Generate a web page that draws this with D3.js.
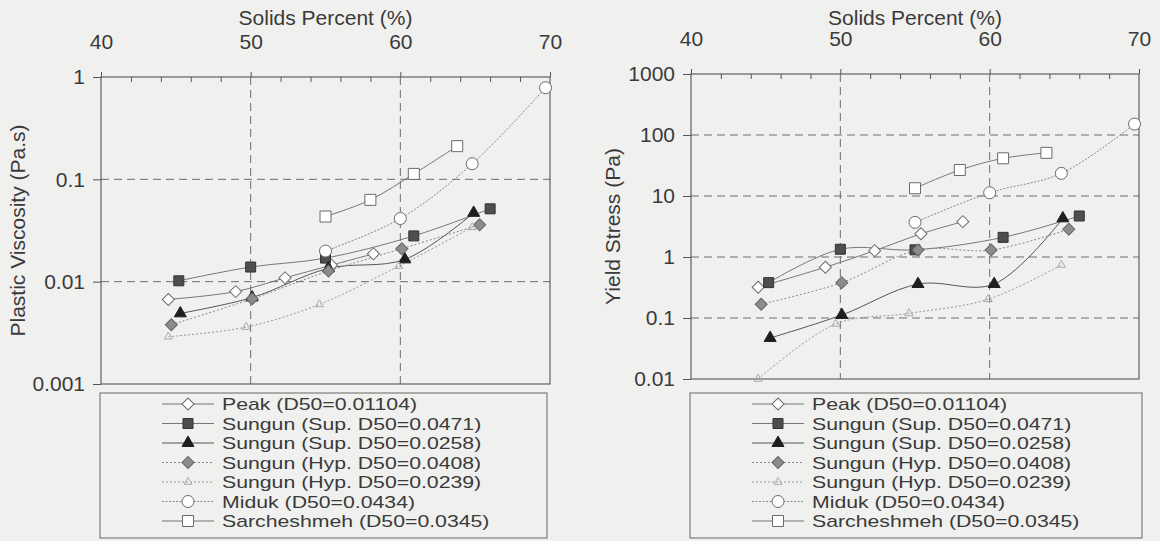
<!DOCTYPE html>
<html>
<head>
<meta charset="utf-8">
<script src="https://cdn.jsdelivr.net/npm/d3@7"></script>
<style>
  html, body { margin: 0; padding: 0; background: #f0f0ef; }
  svg { display: block; }
  text { font-family: "Liberation Sans", Arial, sans-serif; fill: #3a3a3a; }
</style>
</head>
<body>
<div id="chart"></div>
<script>
// series shared by both panels
const seriesNames = [
    "Peak (D50=0.01104)",
    "Sungun (Sup. D50=0.0471)",
    "Sungun (Sup. D50=0.0258)",
    "Sungun (Hyp. D50=0.0408)",
    "Sungun (Hyp. D50=0.0239)",
    "Miduk (D50=0.0434)",
    "Sarcheshmeh (D50=0.0345)"
];

// solids percent of each measured point (same samples in both panels)
const solids = [
    [44.5, 49.0, 52.3, 55.4, 58.2],
    [45.2, 50.0, 55.0, 60.9, 66.0],
    [45.3, 50.1, 55.2, 60.3, 64.9],
    [44.7, 50.1, 55.2, 60.1, 65.3],
    [44.5, 49.7, 54.6, 59.9, 64.8],
    [55.0, 60.0, 64.8, 69.7],
    [55.0, 58.0, 60.9, 63.8]
];

// plastic viscosity (Pa.s)
const viscosity = [
    [0.0067, 0.0080, 0.0109, 0.0145, 0.0187],
    [0.0102, 0.0139, 0.0170, 0.0280, 0.0515],
    [0.0049, 0.0070, 0.0135, 0.0165, 0.0470],
    [0.0038, 0.0068, 0.0127, 0.0210, 0.0360],
    [0.0029, 0.0036, 0.0060, 0.0142, 0.0340],
    [0.0199, 0.0414, 0.142, 0.785],
    [0.0433, 0.063, 0.113, 0.211]
];

// yield stress (Pa)
const yieldStress = [
    [0.32, 0.68, 1.27, 2.4, 3.8],
    [0.38, 1.34, 1.31, 2.1, 4.7],
    [0.047, 0.112, 0.36, 0.36, 4.3],
    [0.168, 0.38, 1.30, 1.30, 2.85],
    [0.010, 0.080, 0.119, 0.203, 0.74],
    [3.7, 11.3, 23.5, 151],
    [13.4, 26.7, 41.5, 51]
];

const xTicks = [40, 50, 60, 70];
const xMinorTicks = [42, 44, 46, 48, 52, 54, 56, 58, 62, 64, 66, 68];
const viscosityTicks = [0.001, 0.01, 0.1, 1];
const viscosityTickLabels = ["0.001", "0.01", "0.1", "1"];
const stressTicks = [0.01, 0.1, 1, 10, 100, 1000];
const stressTickLabels = ["0.01", "0.1", "1", "10", "100", "1000"];

// look of each series: marker, fill, stroke, line dash
const styles = [
    { shape: "diamond", fill: "#ffffff", stroke: "#6a6a6a", line: "#777", dash: null, size: 12 },
    { shape: "square", fill: "#4e4e4e", stroke: "#333", line: "#777", dash: null, size: 10 },
    { shape: "triangle", fill: "#1e1e1e", stroke: "#1e1e1e", line: "#555", dash: null, size: 12 },
    { shape: "diamond", fill: "#8c8c8c", stroke: "#666", line: "#888", dash: "2,2", size: 12 },
    { shape: "triangle", fill: "none", stroke: "#aaa", line: "#999", dash: "2,2", size: 8 },
    { shape: "circle", fill: "#ffffff", stroke: "#6a6a6a", line: "#888", dash: "2,1.5", size: 12 },
    { shape: "square", fill: "#ffffff", stroke: "#6a6a6a", line: "#777", dash: null, size: 11 }
];

const svg = d3.select("#chart").append("svg")
    .attr("width", 1160)
    .attr("height", 541);

function markerPath(shape, size) {
    // size is the approximate width in px
    if (shape === "circle") return d3.symbol(d3.symbolCircle, Math.PI * (size / 2) * (size / 2))();
    if (shape === "square") return d3.symbol(d3.symbolSquare, size * size)();
    if (shape === "diamond") return d3.symbol(d3.symbolSquare, size * size / 2)();
    // triangle: area from side length
    return d3.symbol(d3.symbolTriangle, size * size * Math.sqrt(3) / 4)();
}

function drawMarker(g, s, x, y) {
    g.append("path")
        .attr("d", markerPath(s.shape, s.size))
        .attr("transform", `translate(${x},${y})` + (s.shape === "diamond" ? " rotate(45)" : ""))
        .attr("fill", s.fill)
        .attr("stroke", s.stroke)
        .attr("stroke-width", 1);
}

function drawPanel(p) {
    const g = svg.append("g");

    const x = d3.scaleLinear().domain([40, 70]).range([p.left, p.right]);
    const y = d3.scaleLog().domain(p.yDomain).range([p.bottom, p.top]);

    // dashed grid
    g.selectAll(".vgrid")
        .data([50, 60])
        .enter().append("line")
        .attr("x1", d => x(d)).attr("x2", d => x(d))
        .attr("y1", p.top).attr("y2", p.bottom)
        .attr("stroke", "#6d6d6d").attr("stroke-dasharray", "8,5");

    g.selectAll(".hgrid")
        .data(p.yTicks.slice(1, -1))
        .enter().append("line")
        .attr("x1", p.left).attr("x2", p.right)
        .attr("y1", d => y(d)).attr("y2", d => y(d))
        .attr("stroke", "#6d6d6d").attr("stroke-dasharray", "8,5");

    // top axis, major ticks outward and minor ticks inward
    const topAxis = g.append("g")
        .attr("transform", `translate(0,${p.top})`)
        .call(d3.axisTop(x).tickValues(xTicks).tickSize(5).tickFormat(d3.format("d")));
    topAxis.select(".domain").remove();
    topAxis.selectAll("line").attr("stroke", "#555");
    topAxis.selectAll("text")
        .attr("y", -28).attr("dy", 0)
        .attr("font-size", 21)
        .attr("fill", "#3a3a3a")
        .attr("font-family", "Liberation Sans, Arial, sans-serif");

    const minorAxis = g.append("g")
        .attr("transform", `translate(0,${p.top})`)
        .call(d3.axisTop(x).tickValues(xMinorTicks).tickSize(-5).tickFormat(""));
    minorAxis.select(".domain").remove();
    minorAxis.selectAll("line").attr("stroke", "#555");

    // left axis
    const leftAxis = g.append("g")
        .attr("transform", `translate(${p.left},0)`)
        .call(d3.axisLeft(y).tickValues(p.yTicks).tickSize(8)
            .tickFormat((d, i) => p.yTickLabels[i]));
    leftAxis.select(".domain").remove();
    leftAxis.selectAll("line").attr("stroke", "#555");
    leftAxis.selectAll("text")
        .attr("x", -16)
        .attr("font-size", 21)
        .attr("fill", "#3a3a3a")
        .attr("font-family", "Liberation Sans, Arial, sans-serif");

    // frame
    g.append("rect")
        .attr("x", p.left).attr("y", p.top)
        .attr("width", p.right - p.left).attr("height", p.bottom - p.top)
        .attr("fill", "none").attr("stroke", "#555").attr("stroke-width", 1.1);

    // titles
    g.append("text")
        .attr("x", (p.left + p.right) / 2).attr("y", 25)
        .attr("text-anchor", "middle")
        .attr("font-size", 21)
        .text("Solids Percent (%)");

    g.append("text")
        .attr("transform", `translate(${p.yTitleX},${(p.top + p.bottom) / 2}) rotate(-90)`)
        .attr("text-anchor", "middle")
        .attr("dy", "0.35em")
        .attr("font-size", 21)
        .text(p.yTitle);

    // series lines
    const line = d3.line()
        .x(d => x(d[0]))
        .y(d => y(d[1]))
        .curve(d3.curveCatmullRom.alpha(0.5));

    seriesNames.forEach((name, i) => {
        const pts = solids[i].map((s, j) => [s, p.values[i][j]]);
        g.append("path")
            .datum(pts)
            .attr("d", line)
            .attr("fill", "none")
            .attr("stroke", styles[i].line)
            .attr("stroke-width", 1)
            .attr("stroke-dasharray", styles[i].dash);
    });

    // markers on top
    seriesNames.forEach((name, i) => {
        solids[i].forEach((s, j) => drawMarker(g, styles[i], x(s), y(p.values[i][j])));
    });

    // legend box
    const lg = g.append("g").attr("transform", `translate(${p.legend.x},${p.legend.y})`);
    lg.append("rect")
        .attr("width", p.legend.w).attr("height", p.legend.h)
        .attr("fill", "none").attr("stroke", "#666").attr("stroke-width", 1);

    seriesNames.forEach((name, i) => {
        const cy = 11 + i * 19.5;
        lg.append("line")
            .attr("x1", 62).attr("x2", 114)
            .attr("y1", cy).attr("y2", cy)
            .attr("stroke", styles[i].line)
            .attr("stroke-dasharray", styles[i].dash);
        drawMarker(lg, styles[i], 88, cy);
        // scanned legend text is tall-packed and wide
        lg.append("text")
            .attr("transform", `translate(122,${cy + 6}) scale(1.25,1)`)
            .attr("font-size", 17)
            .text(name);
    });
}

drawPanel({
    left: 101, right: 550, top: 77, bottom: 384,
    yDomain: [0.001, 1], yTicks: viscosityTicks, yTickLabels: viscosityTickLabels,
    values: viscosity, yTitle: "Plastic Viscosity (Pa.s)", yTitleX: 18,
    legend: { x: 100, y: 393, w: 447, h: 145 }
});

drawPanel({
    left: 691, right: 1139, top: 74, bottom: 379,
    yDomain: [0.01, 1000], yTicks: stressTicks, yTickLabels: stressTickLabels,
    values: yieldStress, yTitle: "Yield Stress (Pa)", yTitleX: 613,
    legend: { x: 690, y: 393, w: 452, h: 145 }
});
</script>
</body>
</html>
